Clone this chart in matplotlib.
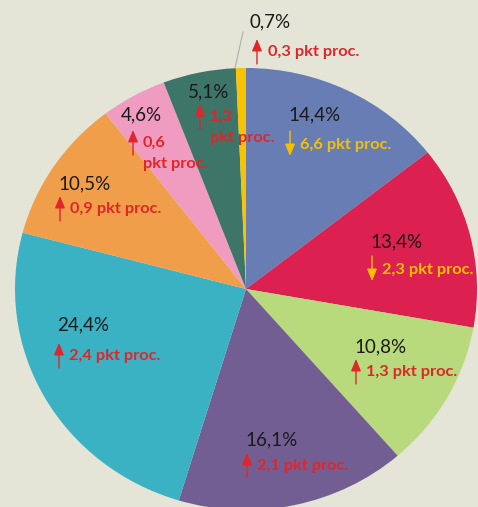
import matplotlib.pyplot as plt

# shares (%) going clockwise from 12 o'clock, and change in percentage points
shares = [14.4, 13.4, 10.8, 16.1, 24.4, 10.5, 4.6, 5.1, 0.7]
changes = [-6.6, -2.3, 1.3, 2.1, 2.4, 0.9, 0.6, 1.3, 0.3]
colors = ['#677db4', '#dc2050', '#b8da7c', '#735e94', '#3ab2c3',
          '#f09e4a', '#f09cc0', '#3d7569', '#f8c400']

# hand placed label spots in pixels (x of text start, y of percent line, y of change line)
label_pos = [(288, 115, 145), (370, 242, 270), (354, 347, 372), (245, 440, 466),
             (57, 325, 356), (58, 184, 209), (121, 115, 143), (188, 92, 117),
             (250, 22, 52)]

W, H = 478, 507
BG = '#e5e5d7'
RED = '#e0262a'
YEL = '#f5c000'

plt.rcParams['font.family'] = ['Lato', 'DejaVu Sans']

fig = plt.figure(figsize=(W / 100, H / 100), dpi=100, facecolor=BG)
ax = fig.add_axes([0, 0, 1, 1])
ax.set_facecolor(BG)

ax.pie(shares, colors=colors, startangle=90, counterclock=False,
       wedgeprops=dict(linewidth=0))
ax.set_aspect('auto')
# centre of the pie at pixel (246, 289), radii 231 x 221 px
cx, cy, rx, ry = 246, 289, 231, 221
ax.set_xlim(-cx / rx, (W - cx) / rx)
ax.set_ylim(-(H - cy) / ry, cy / ry)
ax.axis('off')


def px(x, y):
    return x / W, 1 - y / H


def fmt(v):
    return f'{v:.1f}'.replace('.', ',')


for i, (s, c) in enumerate(zip(shares, changes)):
    x, y1, y2 = label_pos[i]
    ax.text(*px(x, y1), fmt(s) + '%', transform=ax.transAxes, fontsize=13.5,
            color='#1a1a1a', va='center', ha='left')
    col = RED if c > 0 else YEL
    ax_x = x + 2 if i not in (6, 7) else x + 12
    tx = x + 12 if i not in (6, 7) else x + 22
    if i == 8:
        ax_x, tx = x + 7, x + 18
    if i in (6, 7):
        ax.text(*px(tx, y2), fmt(abs(c)), transform=ax.transAxes, fontsize=11.8,
                fontweight='bold', color=col, va='center', ha='left')
        ax.text(*px(tx, y2 + 21), 'pkt proc.', transform=ax.transAxes, fontsize=11.8,
                fontweight='bold', color=col, va='center', ha='left')
    else:
        ax.text(*px(tx, y2), fmt(abs(c)) + ' pkt proc.', transform=ax.transAxes,
                fontsize=11.8, fontweight='bold', color=col, va='center', ha='left')
    if c > 0:
        tail, tip = px(ax_x, y2 + 12), px(ax_x, y2 - 13)
    else:
        tail, tip = px(ax_x, y2 - 14), px(ax_x, y2 + 11)
    ax.annotate('', xy=tip, xytext=tail, xycoords='axes fraction',
                textcoords='axes fraction',
                arrowprops=dict(arrowstyle='-|>,head_length=0.6,head_width=0.25',
                                color=col, lw=1, mutation_scale=12,
                                shrinkA=0, shrinkB=0))

# leader line for the small yellow slice
ax.plot([px(235, 68)[0], px(243, 32)[0]], [px(235, 68)[1], px(243, 32)[1]],
        transform=ax.transAxes, color='#b0b0a8', lw=0.8)

fig.savefig('out.png', dpi=100, facecolor=BG)
